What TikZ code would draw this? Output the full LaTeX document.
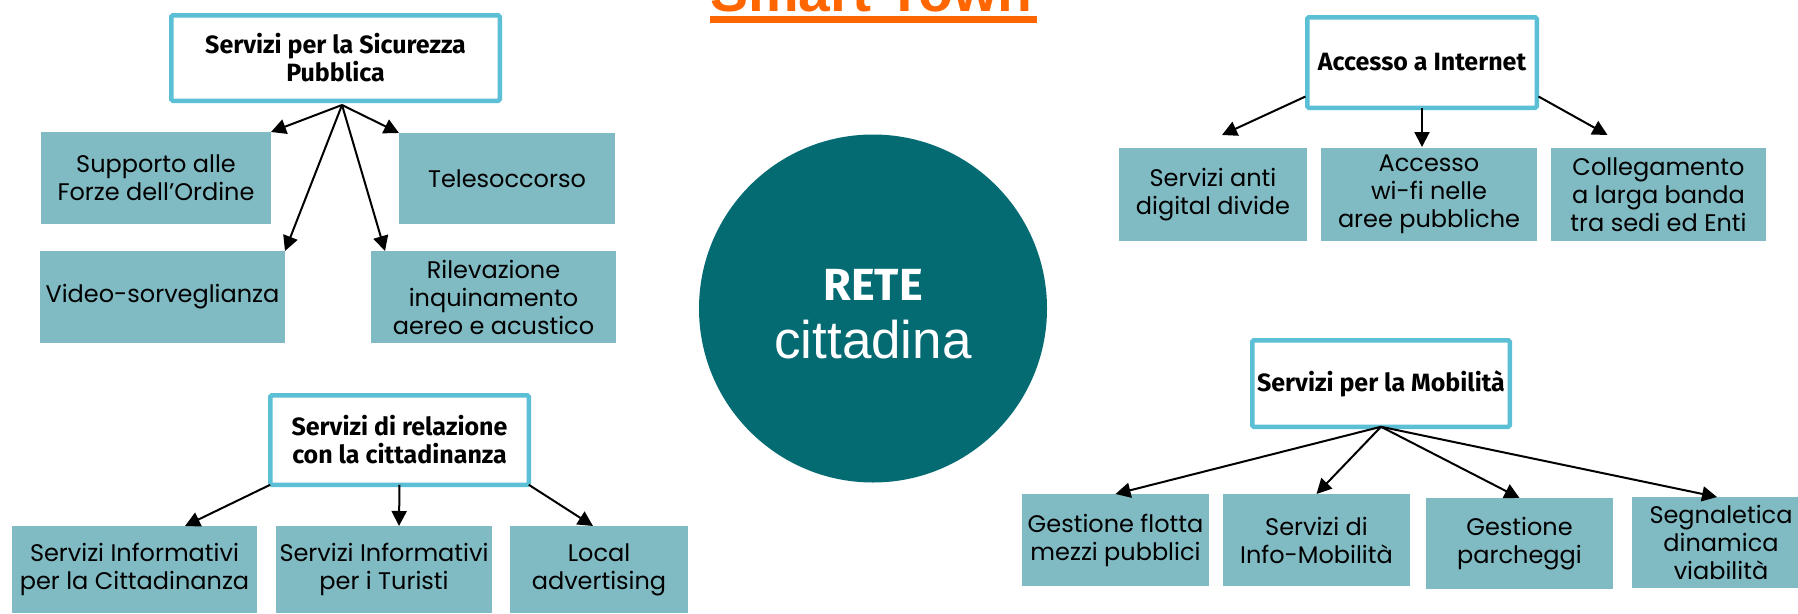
\documentclass[tikz,border=0pt]{standalone}
\usepackage{fontspec}
\setmainfont{Poppins}
\newfontfamily\hdfont{Fira Sans}
\newfontfamily\arfont{Liberation Sans}
\usetikzlibrary{arrows.meta,shapes.geometric}
\definecolor{leaffill}{HTML}{80BAC3}
\definecolor{hdborder}{HTML}{5BC0D6}
\definecolor{hubfill}{HTML}{046B73}
\definecolor{titleorange}{HTML}{FF6600}
\tikzset{
 leaf/.style={fill=leaffill, inner sep=0pt, outer sep=0pt, align=center, text=black, font=\fontsize{24}{28}\selectfont},
 head/.style={fill=white, draw=hdborder, line width=4.5pt, rounded corners=1.5pt, inner sep=0pt, outer sep=0pt, align=center, text=black, font=\hdfont\bfseries\fontsize{25}{28}\selectfont},
 arr/.style={draw=black, line width=2pt, -{Triangle[length=15pt,width=15pt]}},
}
\begin{document}
\begin{tikzpicture}[x=1pt,y=-1pt]
\useasboundingbox (0,0) rectangle (1798,613);
\begin{scope}
\clip (0,0) rectangle (1798,613);
% title
\node[font=\arfont\bfseries\fontsize{57}{57}\selectfont, text=titleorange, anchor=base west, inner sep=0pt] (title) at (710,12) {Smart Town};
\fill[titleorange] (710,16) rectangle (1037,23);
% hub
\node[circle, fill=hubfill, minimum size=348pt, inner sep=0pt] (hub) at (873,308.5) {};
\node[font=\hdfont\bfseries\fontsize{45}{45}\selectfont, text=white, anchor=base, inner sep=0pt] (hubA) at (873,300) {RETE};
\node[font=\arfont\fontsize{53}{53}\selectfont, text=white, anchor=base, inner sep=0pt] (hubB) at (873,358) {cittadina};
% Sicurezza
\node[head, minimum width=328.5pt, minimum height=85.5pt] (sic) at (335.5,58) {Servizi per la Sicurezza\\Pubblica};
\node[leaf, minimum width=230pt, minimum height=92pt] (sup) at (156,178) {Supporto alle\\Forze dell’Ordine};
\node[leaf, minimum width=216pt, minimum height=91pt] (tel) at (507,178.5) {Telesoccorso};
\node[leaf, minimum width=245pt, minimum height=92pt] (vid) at (162.5,297) {Video-sorveglianza};
\node[leaf, minimum width=245pt, minimum height=92pt] (ril) at (493.5,297) {Rilevazione\\inquinamento\\aereo e acustico};
\coordinate (s0) at (342,105);
\coordinate (rilT) at (385,251);
\draw[arr] (s0) -- (sup.north east);
\draw[arr] (s0) -- (tel.north west);
\draw[arr] (s0) -- (vid.north east);
\draw[arr] (s0) -- (rilT);
% Accesso
\node[head, minimum width=229.5pt, minimum height=90.5pt] (acc) at (1422,62.5) {Accesso a Internet};
\node[leaf, minimum width=188pt, minimum height=93pt] (anti) at (1213,194.5) {Servizi anti\\digital divide};
\node[leaf, minimum width=216pt, minimum height=93pt] (wifi) at (1429,194.5) {Accesso\\wi-fi nelle\\aree pubbliche};
\node[leaf, minimum width=215pt, minimum height=93pt] (coll) at (1658.5,194.5) {Collegamento\\a larga banda\\tra sedi ed Enti};
\coordinate (a1s) at (1305.5,96.5);
\coordinate (a1t) at (1222,135);
\coordinate (a2t) at (1422,147);
\coordinate (a3s) at (1538.5,96.5);
\coordinate (a3t) at (1607.5,135);
\draw[arr] (a1s) -- (a1t);
\draw[arr] (acc.south) -- (a2t);
\draw[arr] (a3s) -- (a3t);
% Relazione
\node[head, minimum width=258.5pt, minimum height=89.5pt] (rel) at (399.5,440) {Servizi di relazione\\con la cittadinanza};
\node[leaf, minimum width=245pt, minimum height=87pt] (cit) at (134.5,569.5) {Servizi Informativi\\per la Cittadinanza};
\node[leaf, minimum width=216pt, minimum height=87pt] (tur) at (384,569.5) {Servizi Informativi\\per i Turisti};
\node[leaf, minimum width=178pt, minimum height=87pt] (loc) at (599,569.5) {Local\\advertising};
\coordinate (r1t) at (185,526);
\coordinate (r2t) at (399,526);
\coordinate (r3t) at (593,526);
\draw[arr] (rel.south west) -- (r1t);
\draw[arr] (rel.south) -- (r2t);
\draw[arr] (rel.south east) -- (r3t);
% Mobilita
\node[head, minimum width=257.5pt, minimum height=86.5pt] (mob) at (1381,383.5) {Servizi per la Mobilità};
\node[leaf, minimum width=187pt, minimum height=92pt] (flo) at (1115.5,540) {Gestione flotta\\mezzi pubblici};
\node[leaf, minimum width=187pt, minimum height=92pt] (inf) at (1316.5,540) {Servizi di\\Info-Mobilità};
\node[leaf, minimum width=187pt, minimum height=91pt] (par) at (1519.5,543.5) {Gestione\\parcheggi};
\node[leaf, minimum width=178pt, minimum height=91pt] (seg) at (1721,542.5) {Segnaletica\\dinamica\\viabilità};
\coordinate (m4t) at (1717,497);
\draw[arr] (mob.south) -- (flo.north);
\draw[arr] (mob.south) -- (inf.north);
\draw[arr] (mob.south) -- (par.north);
\draw[arr] (mob.south) -- (m4t);
\end{scope}
\end{tikzpicture}
\end{document}
